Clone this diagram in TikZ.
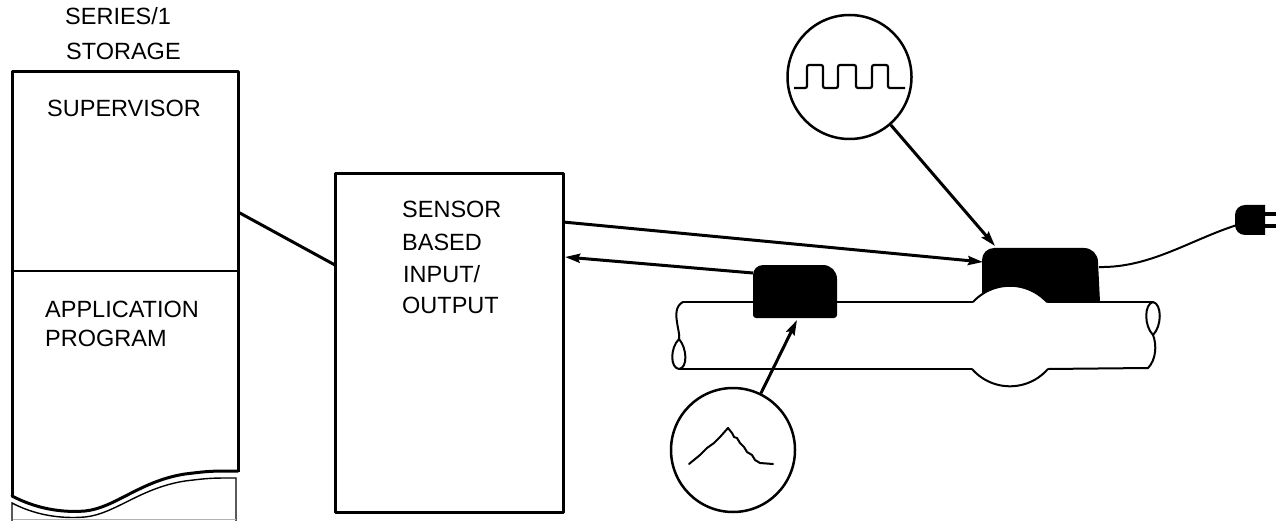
\documentclass[tikz,border=0pt]{standalone}
\usepackage{fontspec}
\setmainfont{Liberation Sans}
\usetikzlibrary{arrows.meta}
\begin{document}
\begin{tikzpicture}[x=1pt,y=-1pt,
  lbl/.style={font=\fontsize{23.5}{28}\selectfont, inner sep=0pt, anchor=base west},
  boxline/.style={line width=3pt, line join=round},
  thinline/.style={line width=2pt, line cap=round, line join=round},
  wire/.style={line width=3pt},
  arr/.style={wire, -{Stealth[length=15pt,width=9pt,inset=2pt]}},
  lens/.style={circle, draw, line width=2.5pt, minimum size=124pt, inner sep=0pt},
  blob/.style={fill=black}]
\useasboundingbox (0,0) rectangle (1284,521);
% note: y grows downwards here, so an arc angle of 270 points up

% ---------- storage column ----------
\node[lbl] (t1) at (65,25) {SERIES/1};
\node[lbl] (t2) at (66,60) {STORAGE};
\draw[boxline] (12,496) -- (12,72) -- (238,72) -- (238,472);
\draw[thinline] (12,271) -- (238,271);
\draw[boxline, line cap=round] (12,496) .. controls (35,508) and (60,513) .. (85,511)
   .. controls (115,508) and (140,481) .. (185,474) .. controls (210,471) .. (238,471);
\draw[line width=1.4pt] (12,521) -- (12,503) .. controls (35,515) and (60,519) .. (85,517)
   .. controls (115,514) and (140,488) .. (185,481) .. controls (210,478) .. (236,478) -- (236,521);
\draw[gray!60, line width=1pt] (13,519.5) -- (236,519.5);
\node[lbl] (sup) at (47,117) {SUPERVISOR};
\node[lbl] (app1) at (45,317) {APPLICATION};
\node[lbl] (app2) at (45,346) {PROGRAM};
\coordinate (stport) at (238,212);

% ---------- sensor based I/O ----------
\node[draw, boxline, minimum width=228pt, minimum height=338pt, inner sep=0pt] (io) at (449,343) {};
\node[lbl] (s1) at (402,218) {SENSOR};
\node[lbl] (s2) at (402,251) {BASED};
\node[lbl] (s3) at (403,283) {INPUT/};
\node[lbl] (s4) at (402,313) {OUTPUT};
\coordinate (ioin) at (335,265);
\coordinate (ioout) at (563,222);
\coordinate (ioret) at (565,257);

% ---------- pipe ----------
\draw[thinline] (683,302) -- (973,302);
\draw[thinline] (1047,302) -- (1153,302);
\draw[thinline] (679,369) -- (972,369);
\draw[thinline] (1048,369) -- (1148,368);
% cut ends
\draw[thinline] (683,302) .. controls (675,306) and (676,316) .. (677,322)
   .. controls (678,330) and (680,335) .. (679,339);
\draw[thinline] (679,339) .. controls (670,348) and (670,368) .. (679,369)
   .. controls (688,368) and (687,348) .. (679,339);
\draw[thinline] (1153,302) .. controls (1144,304) and (1144,326) .. (1153,335)
   .. controls (1162,326) and (1162,304) .. (1153,302);
\draw[thinline] (1153,335) .. controls (1157,345) and (1156,360) .. (1148,368);

% ---------- large sensor on the valve body ----------
\fill[blob] (982,302) -- (982,260) arc[start angle=180,end angle=270,radius=12]
   -- (1084,248) arc[start angle=270,end angle=360,radius=14] -- (1100,302) -- cycle;
\fill[white] (1010,336) circle[radius=50];
\draw[thinline] (973,302) arc[start angle=222.6,end angle=317.4,radius=50.2];
\draw[thinline] (972,369) arc[start angle=139,end angle=41,radius=50.3];
\coordinate (bigin) at (983,262);
\coordinate (bigtop) at (995,246);
% power cord and plug
\coordinate (cordstart) at (1099,267);
\coordinate (plugin) at (1237,225);
\draw[line width=2pt] (cordstart) .. controls (1150,268) and (1190,240) .. (plugin);
\fill[blob] (1265,205) -- (1245,205) arc[start angle=270,end angle=180,radius=10]
   -- (1235,225) arc[start angle=180,end angle=90,radius=10] -- (1265,235) -- cycle;
\fill[blob] (1264,212) rectangle (1276,216);
\fill[blob] (1264,224) rectangle (1276,228);

% ---------- small sensor on the pipe ----------
\fill[blob] (753,315) -- (753,275) arc[start angle=180,end angle=270,radius=10]
   -- (823,265) arc[start angle=270,end angle=360,radius=14]
   -- (837,315) arc[start angle=0,end angle=90,radius=3]
   -- (756,318) arc[start angle=90,end angle=180,radius=3] -- cycle;
\coordinate (smout) at (753,273);
\coordinate (smbot) at (797,320);

% ---------- signal lenses ----------
\node[lens] (sq) at (849.5,77) {};
\draw[line width=2.2pt, rounded corners=2pt] (794,88) -- (807,88) -- (807,65) -- (823,65)
   -- (823,88) -- (838,88) -- (838,65) -- (856,65) -- (856,88) -- (872,88) -- (872,65)
   -- (888,65) -- (888,88) -- (905,88);
\node[lens] (tri) at (733,450) {};
\draw[line width=2pt, line join=round, line cap=round] (689,464) -- (700,455) -- (707,448)
   -- (714,443) -- (720,437) -- (728,428) -- (732,433) -- (734,437) -- (737,438)
   -- (740,443) -- (744,447) -- (747,452) -- (752,455) -- (755,460) -- (760,463)
   -- (773,464);

% ---------- connectors ----------
\draw[wire] (stport) -- (ioin);
\draw[arr] (ioout) -- (bigin);
\draw[arr] (smout) -- (ioret);
\draw[arr] (sq) -- (bigtop);
\draw[arr] (tri) -- (smbot);
\end{tikzpicture}
\end{document}
